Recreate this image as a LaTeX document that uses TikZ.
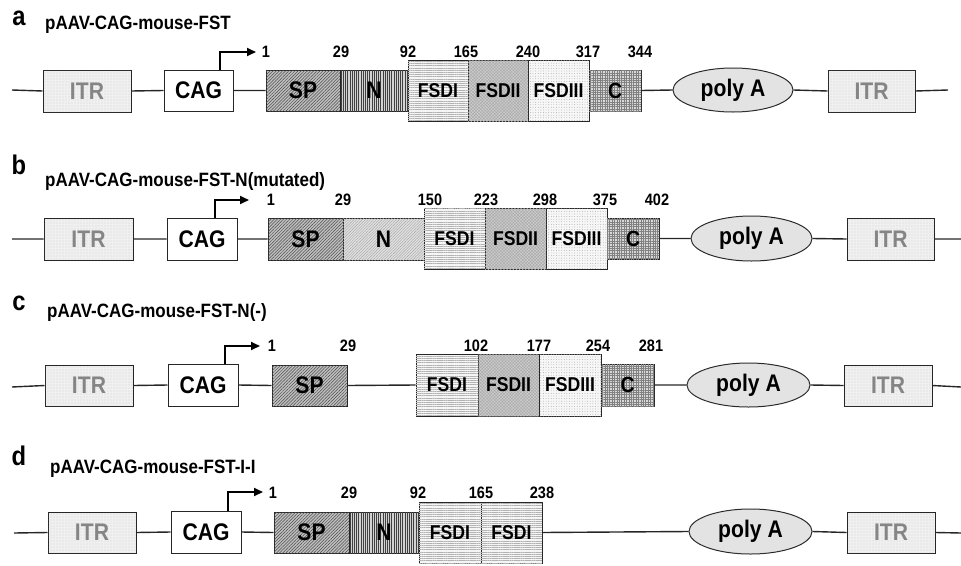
\documentclass[tikz,border=0pt]{standalone}
\usepackage{fontspec}
\setmainfont[FakeStretch=0.88]{Liberation Sans}
\usetikzlibrary{shapes.geometric,patterns.meta,arrows.meta}
\newcommand\gbox[7]{%
  \node[gb,#6,minimum width={(#4-#2)*1pt},minimum height={(#5-#3)*1pt}] (#1) at ({(#2+#4)/2},{(#3+#5)/2}) {#7};}
\begin{document}
\begin{tikzpicture}[x=1pt,y=-1pt,
  gb/.style={draw=black!85, line width=1pt, inner sep=0pt, font=\bfseries\fontsize{24}{26}\selectfont},
  fsfont/.style={font=\bfseries\fontsize{20}{22}\selectfont},
  itr/.style={fill=gray!12, text=black!48, postaction={pattern color=gray!75, pattern={Dots[radius=0.35pt,distance=3pt]}}},
  cag/.style={fill=white},
  sp/.style={fill=gray!50, postaction={pattern color=black!70, pattern={Lines[angle=45,distance=2.2pt,line width=0.5pt]}}},
  nv/.style={fill=gray!35, postaction={pattern color=black!75, pattern={Lines[angle=90,distance=2.2pt,line width=0.5pt]}}},
  nb/.style={fill=gray!25, postaction={pattern color=gray!70, pattern={Lines[angle=45,distance=2pt,line width=0.4pt]}}},
  fsa/.style={fsfont, fill=gray!8, postaction={pattern color=gray!60, pattern={Lines[angle=0,distance=2.2pt,line width=0.4pt]}}},
  fsb/.style={fsfont, fill=gray!40, postaction={pattern color=gray!70, pattern={Hatch[angle=45,distance=2.2pt,line width=0.35pt]}}},
  fsc/.style={fsfont, fill=gray!6, postaction={pattern color=gray!70, pattern={Dots[radius=0.45pt,distance=2.6pt]}}},
  cc/.style={font=\bfseries\fontsize{22}{24}\selectfont, fill=gray!30, postaction={pattern color=black!50, pattern={Hatch[angle=0,distance=2.4pt,line width=0.3pt]}}},
  pa/.style={ellipse, fill=gray!18, postaction={pattern color=gray!60, pattern={Dots[radius=0.3pt,distance=2pt]}}},
  bb/.style={line width=1.4pt, black!85},
  prom/.style={line width=1.9pt, -{Triangle[length=9pt,width=8pt]}},
  num/.style={inner sep=0pt, font=\bfseries\fontsize{16.5}{18}\selectfont},
  ttl/.style={inner sep=0pt, anchor=west, font=\bfseries\fontsize{19.3}{21}\selectfont},
  lett/.style={inner sep=0pt, font=\bfseries\fontsize{27}{28}\selectfont}]
\useasboundingbox (0,0) rectangle (961,565);

% ---------------- row a ----------------
\node[lett] (la) at (19,18) {a};
\node[ttl] (ta) at (45,25) {pAAV-CAG-mouse-FST};
\coordinate (sa) at (12,90);
\coordinate (ea) at (948,90);
\gbox{aitr1}{43}{70}{131}{112}{itr}{ITR}
\gbox{acag}{164}{70}{233}{111}{cag}{CAG}
\gbox{asp}{266}{70}{340}{111}{sp}{SP}
\gbox{an}{340}{70}{408}{111}{nv}{N}
\gbox{af1}{408}{60}{468}{121}{fsa}{FSDI}
\gbox{af2}{468}{60}{528}{121}{fsb}{FSDII}
\gbox{af3}{528}{60}{589}{121}{fsc}{FSDIII}
\gbox{ac}{589}{70}{641}{111}{cc}{C}
\gbox{apa}{673}{68}{793}{112}{pa}{poly A}
\gbox{aitr2}{828}{70}{915}{112}{itr}{ITR}
\draw[bb] (sa) -- (aitr1.west) (aitr1.east) -- (acag.west) (acag.east) -- (asp.west)
  (ac.east) -- (apa.west) (apa.east) -- (aitr2.west) (aitr2.east) -- (ea);
\coordinate (apx) at (220,52);
\coordinate (aarr) at (256,52);
\draw[prom] (apx |- acag.north) |- (aarr);
\node[num] (an1) at (266,52) {1};
\node[num] (an2) at (341,52) {29};
\node[num] (an3) at (408,52) {92};
\node[num] (an4) at (466,52) {165};
\node[num] (an5) at (528,52) {240};
\node[num] (an6) at (588,52) {317};
\node[num] (an7) at (640,52) {344};

% ---------------- row b ----------------
\node[lett] (lb) at (19,165) {b};
\node[ttl] (tb) at (45,182) {pAAV-CAG-mouse-FST-N(mutated)};
\coordinate (sb) at (12,239);
\coordinate (eb) at (961,239);
\gbox{bitr1}{44}{218}{133}{260}{itr}{ITR}
\gbox{bcag}{167}{218}{237}{260}{cag}{CAG}
\gbox{bsp}{268}{218}{343}{260}{sp}{SP}
\gbox{bn}{343}{218}{424}{260}{nb}{N}
\gbox{bf1}{424}{208}{485}{269}{fsa}{FSDI}
\gbox{bf2}{485}{208}{546}{269}{fsb}{FSDII}
\gbox{bf3}{546}{208}{607}{269}{fsc}{FSDIII}
\gbox{bc}{607}{218}{659}{259}{cc}{C}
\gbox{bpa}{691}{216}{812}{261}{pa}{poly A}
\gbox{bitr2}{847}{218}{934}{260}{itr}{ITR}
\draw[bb] (sb) -- (bitr1.west) (bitr1.east) -- (bcag.west) (bcag.east) -- (bsp.west)
  (bc.east) -- (bpa.west) (bpa.east) -- (bitr2.west) (bitr2.east) -- (eb);
\coordinate (bpx) at (215,200);
\coordinate (barr) at (249,200);
\draw[prom] (bpx |- bcag.north) |- (barr);
\node[num] (bn1) at (271,200) {1};
\node[num] (bn2) at (343,200) {29};
\node[num] (bn3) at (430,200) {150};
\node[num] (bn4) at (486,200) {223};
\node[num] (bn5) at (545,200) {298};
\node[num] (bn6) at (605,200) {375};
\node[num] (bn7) at (657,200) {402};

% ---------------- row c ----------------
\node[lett] (lc) at (19,303) {c};
\node[ttl] (tc) at (47,313) {pAAV-CAG-mouse-FST-N(-)};
\coordinate (sc) at (12,387);
\coordinate (ec) at (961,387);
\gbox{citr1}{45}{365}{133}{406}{itr}{ITR}
\gbox{ccag}{168}{364}{238}{406}{cag}{CAG}
\gbox{csp}{272}{365}{347}{406}{sp}{SP}
\gbox{cf1}{416}{354}{478}{416}{fsa}{FSDI}
\gbox{cf2}{478}{354}{539}{416}{fsb}{FSDII}
\gbox{cf3}{539}{354}{601}{416}{fsc}{FSDIII}
\gbox{cc}{601}{364}{654}{406}{cc}{C}
\gbox{cpa}{687}{363}{810}{407}{pa}{poly A}
\gbox{citr2}{844}{365}{932}{406}{itr}{ITR}
\draw[bb] (sc) -- (citr1.west) (citr1.east) -- (ccag.west) (ccag.east) -- (csp.west)
  (csp.east) -- (cf1.west)
  (cc.east) -- (cpa.west) (cpa.east) -- (citr2.west) (citr2.east) -- (ec);
\coordinate (cpx) at (225,346);
\coordinate (carr) at (260,346);
\draw[prom] (cpx |- ccag.north) |- (carr);
\node[num] (cn1) at (272,346) {1};
\node[num] (cn2) at (348,346) {29};
\node[num] (cn3) at (476,346) {102};
\node[num] (cn4) at (539,346) {177};
\node[num] (cn5) at (598,346) {254};
\node[num] (cn6) at (651,346) {281};

% ---------------- row d ----------------
\node[lett] (ld) at (19,456) {d};
\node[ttl] (td) at (50,469) {pAAV-CAG-mouse-FST-I-I};
\coordinate (sd) at (14,533);
\coordinate (ed) at (961,533);
\gbox{ditr1}{48}{512}{136}{553}{itr}{ITR}
\gbox{dcag}{171}{511}{241}{553}{cag}{CAG}
\gbox{dsp}{274}{512}{349}{553}{sp}{SP}
\gbox{dn}{349}{512}{419}{553}{nv}{N}
\gbox{df1}{419}{502}{481}{563}{fsa}{FSDI}
\gbox{df2}{481}{502}{542}{563}{fsa}{FSDI}
\gbox{dpa}{689}{509}{812}{554}{pa}{poly A}
\gbox{ditr2}{847}{512}{935}{553}{itr}{ITR}
\draw[bb] (sd) -- (ditr1.west) (ditr1.east) -- (dcag.west) (dcag.east) -- (dsp.west)
  (df2.east) -- (dpa.west) (dpa.east) -- (ditr2.west) (ditr2.east) -- (ed);
\coordinate (dpx) at (228,492);
\coordinate (darr) at (263,492);
\draw[prom] (dpx |- dcag.north) |- (darr);
\node[num] (dn1) at (273,493) {1};
\node[num] (dn2) at (349,493) {29};
\node[num] (dn3) at (418,493) {92};
\node[num] (dn4) at (481,493) {165};
\node[num] (dn5) at (542,493) {238};
\end{tikzpicture}
\end{document}
